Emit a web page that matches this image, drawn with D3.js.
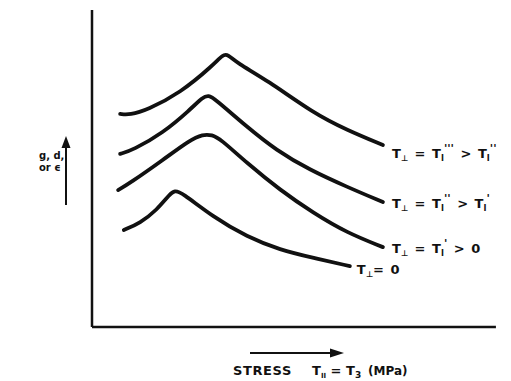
<!DOCTYPE html>
<html>
<head>
<meta charset="utf-8">
<script src="https://cdn.jsdelivr.net/npm/d3@7"></script>
<style>
  body { margin: 0; background: #fff; }
  text { font-family: "DejaVu Sans", sans-serif; font-weight: bold; fill: #111; }
</style>
</head>
<body>
<svg width="511" height="381"></svg>
<script>
// curves, arbitrary units 0-100 (stress, g/d/e)
const curveTop = [[6.9,67.2],[9.3,66.9],[13.5,68.5],[21.6,73.8],[29.7,82.6],[32.1,86.0],[33.3,86.0],[35.5,83.3],[42.9,77.9],[54.2,67.5],[62.5,62.1],[71.3,57.4]];
const curveSecond = [[6.9,54.6],[10.0,55.8],[17.4,61.2],[24.0,68.5],[27.2,72.6],[28.6,73.0],[29.9,72.2],[38.0,63.1],[45.1,55.8],[53.4,49.5],[62.5,44.2],[71.3,39.4]];
const curveThird = [[6.4,43.2],[9.3,45.4],[17.4,52.7],[24.0,59.0],[27.2,60.8],[29.4,60.6],[31.4,59.4],[38.0,51.7],[46.1,43.2],[54.2,36.0],[62.5,29.7],[71.3,25.2]];
const curveZero = [[7.8,30.6],[11.8,32.8],[15.9,36.9],[19.1,42.0],[20.3,43.0],[21.8,42.6],[29.7,34.7],[38.0,28.4],[46.1,24.3],[54.2,21.8],[63.2,19.2]];

// label pieces: [text, kind]  ("" normal, "sub", "sup")
const labelTop = [["T",""],["⊥","sub"],[" = T",""],["I","sub"],["'''","sup"],[" > T",""],["I","sub"],["''","sup"]];
const labelSecond = [["T",""],["⊥","sub"],[" = T",""],["I","sub"],["''","sup"],[" > T",""],["I","sub"],["'","sup"]];
const labelThird = [["T",""],["⊥","sub"],[" = T",""],["I","sub"],["'","sup"],[" > 0",""]];
const labelZero = [["T",""],["⊥","sub"],["= 0",""]];

const series = [
  {pts: curveTop, label: labelTop, dx: 9, dy: 8},
  {pts: curveSecond, label: labelSecond, dx: 9, dy: 1},
  {pts: curveThird, label: labelThird, dx: 9, dy: 1},
  {pts: curveZero, label: labelZero, dx: 7, dy: 3}
];

var svg = d3.select("svg");
var x = d3.scaleLinear().domain([0, 100]).range([92, 500]);
var y = d3.scaleLinear().domain([0, 100]).range([327, 10]);

// axes (plain lines, no ticks)
svg.append("line").attr("x1", x(0)).attr("x2", x(0)).attr("y1", y(100)).attr("y2", y(0))
  .attr("stroke", "#111").attr("stroke-width", 2.5);
svg.append("line").attr("x1", x(0)).attr("x2", x(99)).attr("y1", y(0)).attr("y2", y(0))
  .attr("stroke", "#111").attr("stroke-width", 2.5);

var line = d3.line().x(d => x(d[0])).y(d => y(d[1])).curve(d3.curveBasis);

var shifts = {"": 0, "sub": 3, "sup": -6};
var sizes = {"": 13, "sub": 8, "sup": 11};

series.forEach(s => {
  svg.append("path").attr("d", line(s.pts))
    .attr("fill", "none").attr("stroke", "#111").attr("stroke-width", 3.8)
    .attr("stroke-linecap", "round");
  var last = s.pts[s.pts.length - 1];
  var t = svg.append("text").attr("x", x(last[0]) + s.dx).attr("y", y(last[1]) + s.dy + 5)
    .attr("font-size", 13).attr("word-spacing", 2);
  var prev = 0;
  s.label.forEach(p => {
    var own = shifts[p[1]];
    t.append("tspan").text(p[0]).attr("font-size", sizes[p[1]]).attr("dy", own - prev);
    prev = own;
  });
});

// y label + arrow
svg.append("text").attr("x", 39).attr("y", 159).attr("font-size", 10).text("g, d,");
svg.append("text").attr("x", 39).attr("y", 171).attr("font-size", 10).text("or ϵ");
svg.append("line").attr("x1", 66).attr("x2", 66).attr("y1", 205).attr("y2", 146)
  .attr("stroke", "#111").attr("stroke-width", 2);
svg.append("path").attr("d", "M61.5,148 L66,136 L70.5,148 Z").attr("fill", "#111");

// x label + arrow
svg.append("line").attr("x1", 250).attr("x2", 332).attr("y1", 353).attr("y2", 353)
  .attr("stroke", "#111").attr("stroke-width", 2);
svg.append("path").attr("d", "M330,348.5 L344,353 L330,357.5 Z").attr("fill", "#111");
var xl = svg.append("text").attr("x", 233).attr("y", 375).attr("font-size", 13);
xl.append("tspan").attr("letter-spacing", 0.6).text("STRESS");
xl.append("tspan").attr("x", 312).text("T");
xl.append("tspan").attr("font-size", 7).attr("dy", 3).text("II");
xl.append("tspan").attr("dy", -3).text(" = T");
xl.append("tspan").attr("font-size", 9).attr("dy", 3).text("3");
xl.append("tspan").attr("dy", -3).attr("x", 368).attr("font-size", 12).text("(MPa)");
</script>
</body>
</html>
